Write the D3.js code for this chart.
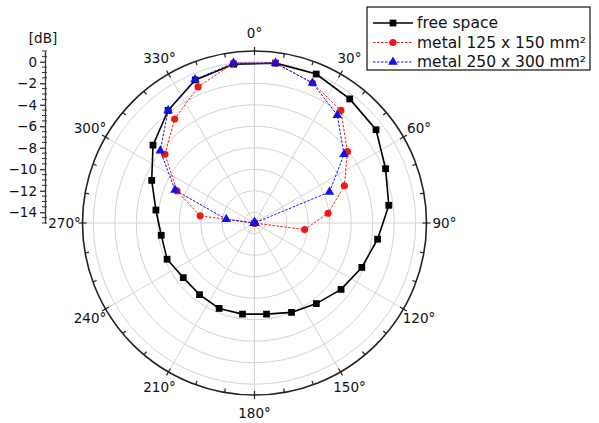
<!DOCTYPE html>
<html>
<head>
<meta charset="utf-8">
<script src="https://cdn.jsdelivr.net/npm/d3@7"></script>
<style>
  body { margin: 0; background: #fff; }
  svg { font-family: "DejaVu Sans", sans-serif; }
</style>
</head>
<body>
<svg id="drawing_region"></svg>
<script>
// measurement angles (deg, clockwise from top)
const angles = [7.5, 22.5, 37.5, 52.5, 67.5, 82.5, 97.5, 112.5, 127.5, 142.5, 157.5, 172.5,
                187.5, 202.5, 217.5, 232.5, 247.5, 262.5, 277.5, 292.5, 307.5, 322.5, 337.5, 352.5];

// levels in dB
const freeSpace = [0, 0, -0.45, -0.75, -1.8, -2.4, -3.45, -4.2, -4.85, -5.55, -6.0, -6.45,
                   -6.45, -6.4, -6.6, -6.65, -6.2, -6.25, -5.75, -4.65, -3.1, -1.8, -0.6, -0.1];
const metal125 = [0, -0.9, -1.8, -4.1, -5.95, -8.1, -10.3, -15, -15, -15, -15, -15,
                  -15, -15, -15, -15, -15, -15, -9.9, -7.2, -4.5, -2.8, -1.3, 0];
const metal250 = [0, -0.9, -2.35, -4.5, -7.45, -15, -15, -15, -15, -15, -15, -15,
                  -15, -15, -15, -15, -15, -15, -12.35, -7.0, -3.95, -1.8, -0.55, 0];

const seriesNames = ["free space", "metal 125 x 150 mm\u00b2", "metal 250 x 300 mm\u00b2"];

const angleTicks = [0, 30, 60, 90, 120, 150, 180, 210, 240, 270, 300, 330];
const gridLevels = [-14, -12, -10, -8, -6, -4, -2, 0];
const dbTicks = [0, -2, -4, -6, -8, -10, -12, -14];

const width = 599, height = 423;
const cx = 254.5, cy = 223;

const svg = d3.select('#drawing_region')
    .attr('width', width)
    .attr('height', height);

const rscale = d3.scaleLinear().domain([-15, 1]).range([0, 172]);
const ascale = d3.scaleLinear().domain([0, 360]).range([0, 2 * Math.PI]);
const R = rscale(1);

const polar = svg.append('g')
    .attr('transform', `translate(${cx}, ${cy})`);

// grid circles
polar.selectAll('circle.grid')
    .data(gridLevels)
    .enter()
    .append('circle')
    .attr('class', 'grid')
    .attr('r', d => rscale(d))
    .attr('fill', 'none')
    .attr('stroke', '#d4d4d4')
    .attr('stroke-width', 1);

// radial lines
polar.selectAll('line.spoke')
    .data(angleTicks)
    .enter()
    .append('line')
    .attr('x1', 0).attr('y1', 0)
    .attr('x2', d => R * Math.sin(ascale(d)))
    .attr('y2', d => -R * Math.cos(ascale(d)))
    .attr('stroke', '#d4d4d4')
    .attr('stroke-width', 1);

// outer circle
polar.append('circle')
    .attr('r', R)
    .attr('fill', 'none')
    .attr('stroke', '#222')
    .attr('stroke-width', 1.6);

// ticks on outer circle every 10 deg
polar.selectAll('line.atick')
    .data(d3.range(0, 360, 10))
    .enter()
    .append('line')
    .attr('x1', d => (R - 4) * Math.sin(ascale(d)))
    .attr('y1', d => -(R - 4) * Math.cos(ascale(d)))
    .attr('x2', d => (R + (d % 30 === 0 ? 4 : 0)) * Math.sin(ascale(d)))
    .attr('y2', d => -(R + (d % 30 === 0 ? 4 : 0)) * Math.cos(ascale(d)))
    .attr('stroke', '#222')
    .attr('stroke-width', 1.2);

// angle labels
polar.selectAll('text.alabel')
    .data(angleTicks)
    .enter()
    .append('text')
    .attr('x', d => 190 * Math.sin(ascale(d)))
    .attr('y', d => -190 * Math.cos(ascale(d)))
    .attr('dy', '0.35em')
    .attr('text-anchor', 'middle')
    .attr('font-size', 13.5)
    .attr('fill', '#111')
    .text(d => d + '\u00b0');

// series
const series = [
    { name: seriesNames[0], values: freeSpace, color: '#000', dash: null, width: 1.6, symbol: d3.symbolSquare, size: 46 },
    { name: seriesNames[1], values: metal125, color: '#f01818', dash: '2.5,1.5', width: 1, symbol: d3.symbolCircle, size: 40 },
    { name: seriesNames[2], values: metal250, color: '#1010f0', dash: '2.5,1.5', width: 1, symbol: d3.symbolTriangle, size: 40 }
];

const line = d3.lineRadial()
    .angle(d => ascale(d.a))
    .radius(d => rscale(Math.max(-15, d.v)))
    .curve(d3.curveLinearClosed);

series.forEach(s => {
    const pts = angles.map((a, i) => ({ a: a, v: s.values[i] }));
    polar.append('path')
        .datum(pts)
        .attr('d', line)
        .attr('fill', 'none')
        .attr('stroke', s.color)
        .attr('stroke-width', s.width)
        .attr('stroke-dasharray', s.dash);
    polar.selectAll(null)
        .data(pts)
        .enter()
        .append('path')
        .attr('d', d3.symbol().type(s.symbol).size(s.size))
        .attr('transform', d => {
            const r = rscale(Math.max(-15, d.v));
            return `translate(${r * Math.sin(ascale(d.a))}, ${-r * Math.cos(ascale(d.a))})`;
        })
        .attr('fill', s.color);
});

// dB axis on the left
const yscale = d3.scaleLinear().domain([-15, 1]).range([cy, cy - 172]);
const yaxis_group = svg.append('g')
    .attr('transform', 'translate(45, 0)');
yaxis_group.call(d3.axisLeft(yscale).tickValues(dbTicks).tickSize(5).tickSizeOuter(0).tickPadding(3))
    .call(g => g.selectAll('text').attr('font-size', 13.5).attr('fill', '#111').attr('font-family', '"DejaVu Sans", sans-serif'))
    .call(g => g.selectAll('line, path').attr('stroke', '#333').attr('stroke-width', 1.3));
yaxis_group.selectAll('line.minor')
    .data(d3.range(-15, 1.01, 0.5).filter(v => !dbTicks.includes(v)))
    .enter()
    .append('line')
    .attr('x1', -3).attr('x2', 2)
    .attr('y1', d => yscale(d)).attr('y2', d => yscale(d))
    .attr('stroke', '#333')
    .attr('stroke-width', 1);

svg.append('text')
    .attr('x', 43)
    .attr('y', 43)
    .attr('text-anchor', 'middle')
    .attr('font-size', 13.5)
    .attr('fill', '#111')
    .text('[dB]');

// legend
const legend = svg.append('g');
legend.append('rect')
    .attr('x', 367).attr('y', 7)
    .attr('width', 223).attr('height', 63)
    .attr('fill', '#fff');
series.forEach((s, i) => {
    const y = 23 + i * 19.5;
    legend.append('line')
        .attr('x1', 373).attr('x2', 413)
        .attr('y1', y).attr('y2', y)
        .attr('stroke', s.color)
        .attr('stroke-width', s.width)
        .attr('stroke-dasharray', s.dash);
    legend.append('path')
        .attr('d', d3.symbol().type(s.symbol).size(s.size))
        .attr('transform', `translate(393, ${y})`)
        .attr('fill', s.color);
    legend.append('text')
        .attr('x', 417).attr('y', y)
        .attr('dy', '0.35em')
        .attr('font-size', 15.5)
        .attr('fill', '#111')
        .text(s.name);
});
legend.append('rect')
    .attr('x', 367).attr('y', 7)
    .attr('width', 223).attr('height', 63)
    .attr('fill', 'none')
    .attr('stroke', '#111')
    .attr('stroke-width', 1.2);
</script>
</body>
</html>
